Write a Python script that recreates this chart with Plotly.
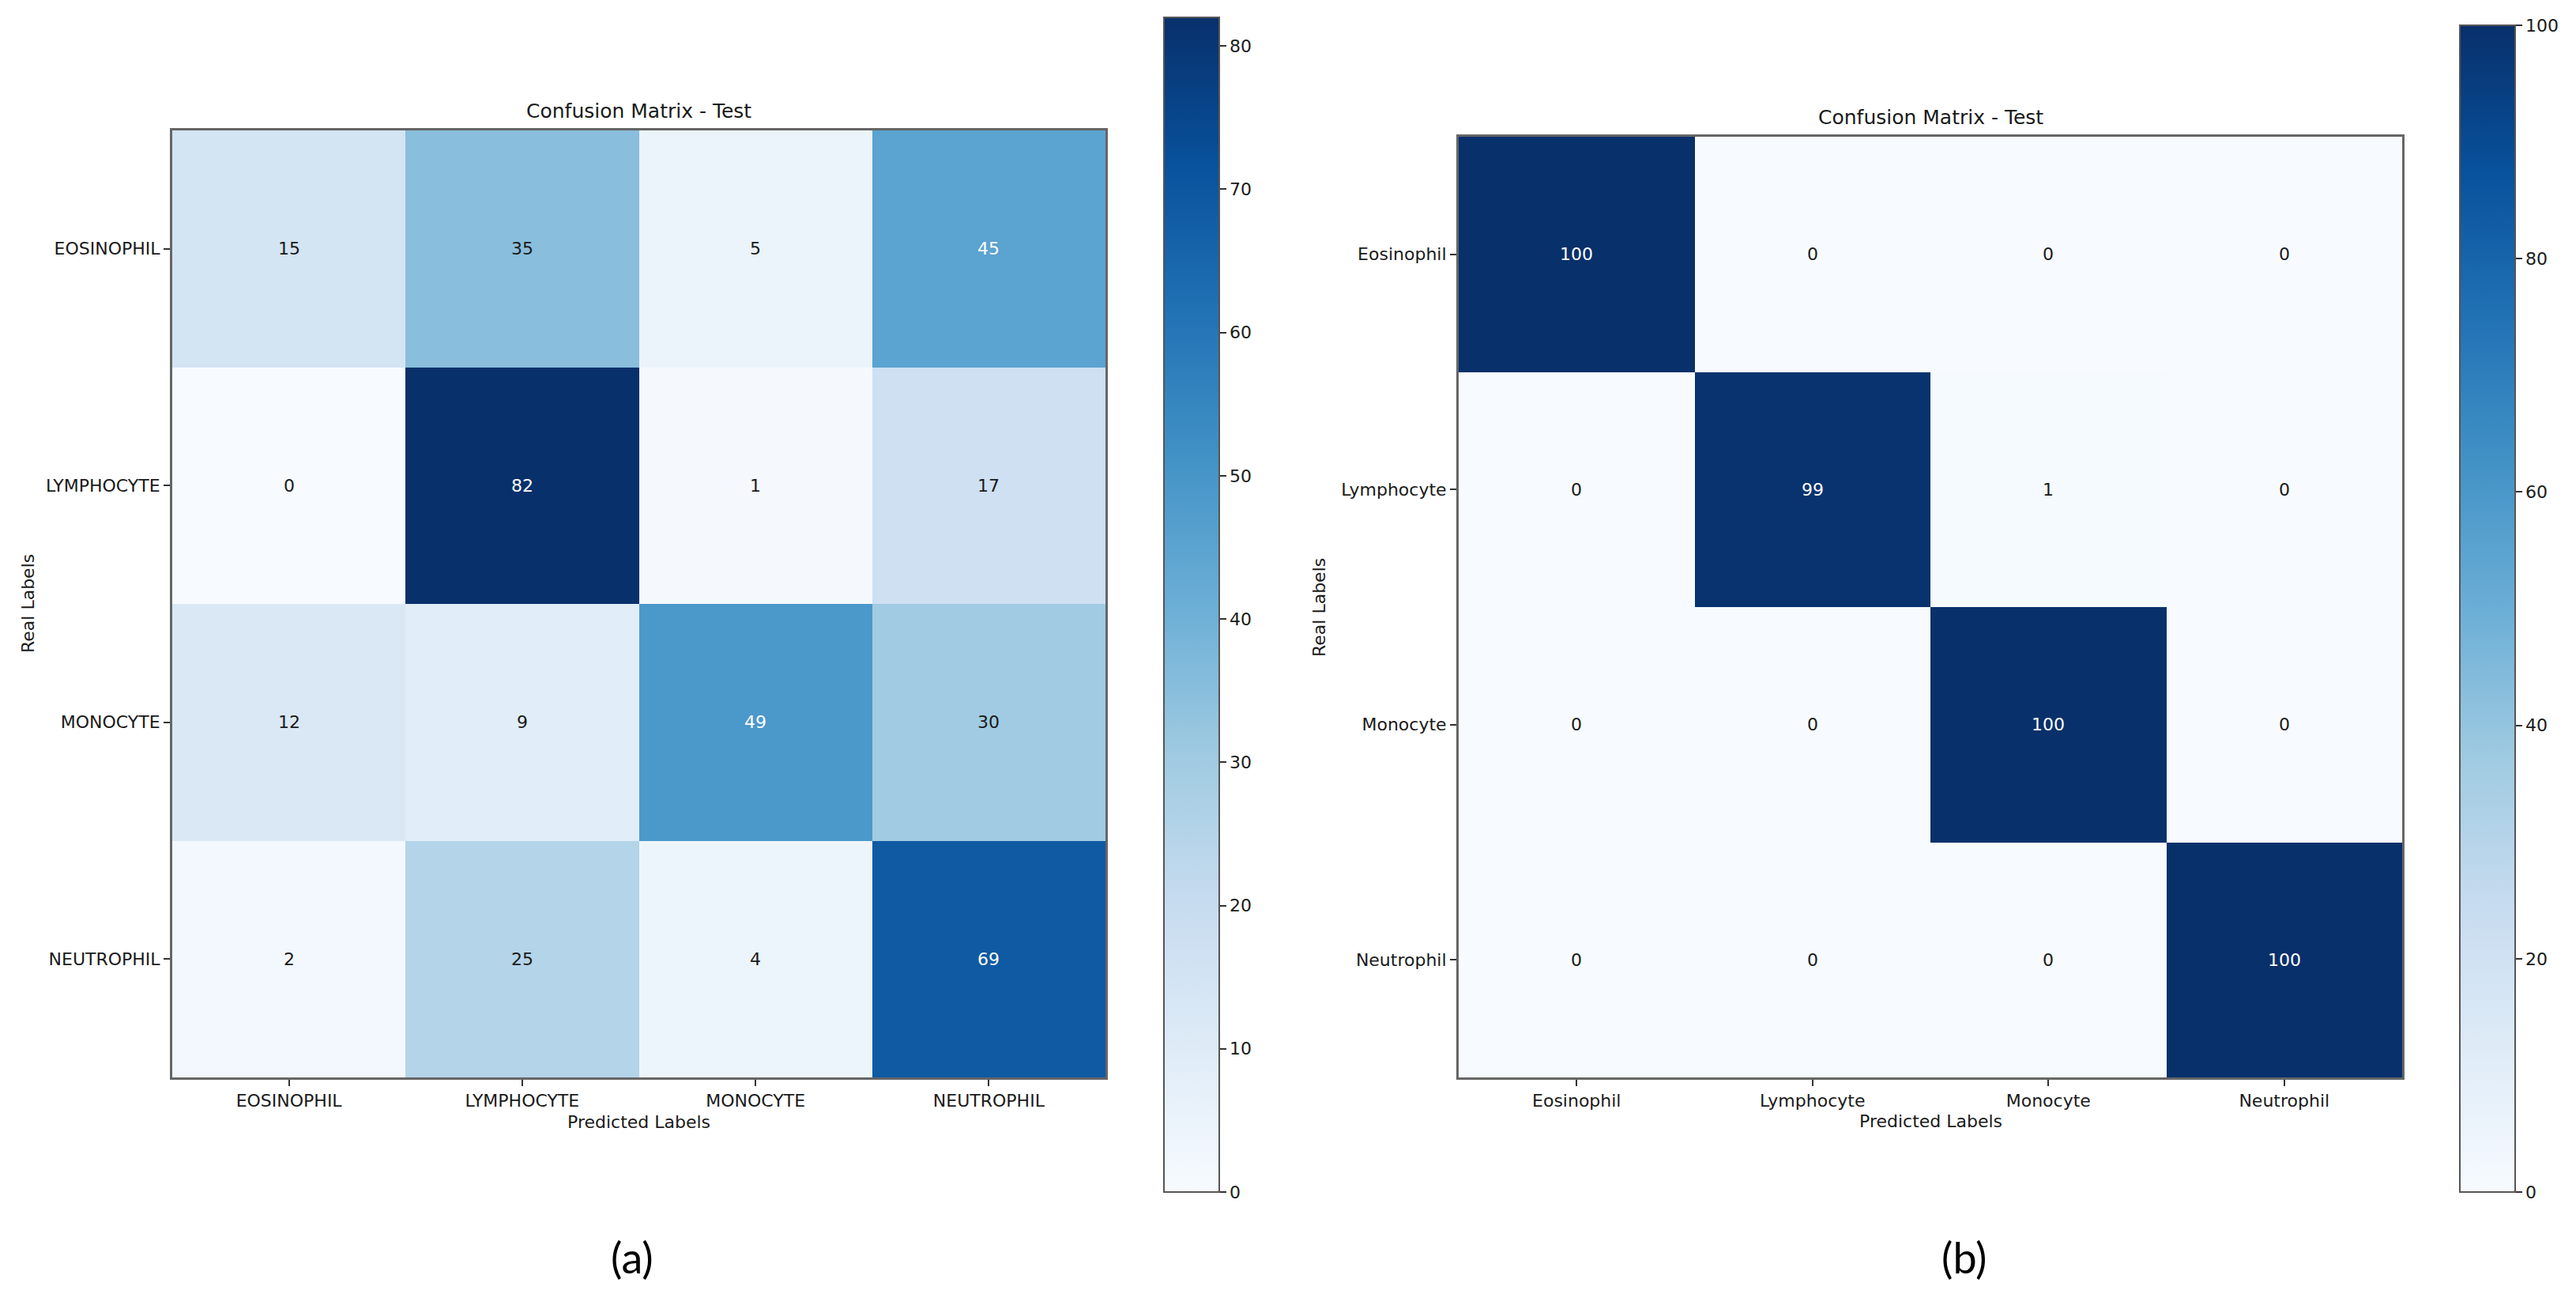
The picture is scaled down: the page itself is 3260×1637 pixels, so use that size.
import plotly.graph_objects as go

# ---------------- data ----------------
labels_a = ["EOSINOPHIL", "LYMPHOCYTE", "MONOCYTE", "NEUTROPHIL"]
labels_b = ["Eosinophil", "Lymphocyte", "Monocyte", "Neutrophil"]
cm_a = [
    [15, 35, 5, 45],
    [0, 82, 1, 17],
    [12, 9, 49, 30],
    [2, 25, 4, 69],
]
cm_b = [
    [100, 0, 0, 0],
    [0, 99, 1, 0],
    [0, 0, 100, 0],
    [0, 0, 0, 100],
]
cbar_ticks_a = [0, 10, 20, 30, 40, 50, 60, 70, 80]
cbar_ticks_b = [0, 20, 40, 60, 80, 100]
title_text = "Confusion Matrix - Test"
xlabel = "Predicted Labels"
ylabel = "Real Labels"
captions = ["(a)", "(b)"]

# ---------------- layout constants ----------------
W, H = 3260, 1637
FONT = "DejaVu Sans"
TXT = "#1a1a1a"

fig = go.Figure()

panels = [
    dict(z=cm_a, labels=labels_a, ticks=cbar_ticks_a, xa="x", ya="y",
         xdom=[218 / W, 1399 / W], ydom=[1 - 1363 / H, 1 - 165 / H],
         cbx=1473 / W, cby0=1 - 1508 / H, cblen=(1508 - 22) / H,
         ylab_shift=-183, cap_x=800 / W),
    dict(z=cm_b, labels=labels_b, ticks=cbar_ticks_b, xa="x2", ya="y2",
         xdom=[1846 / W, 3040 / W], ydom=[1 - 1363 / H, 1 - 173 / H],
         cbx=3113 / W, cby0=1 - 1508 / H, cblen=(1508 - 32) / H,
         ylab_shift=-177, cap_x=2486 / W),
]

annotations = []
for i, p in enumerate(panels):
    z = p["z"]
    zmax = max(max(r) for r in z)
    fig.add_trace(go.Heatmap(
        z=z, x=p["labels"], y=p["labels"],
        xaxis=p["xa"], yaxis=p["ya"],
        colorscale="Blues", zmin=0, zmax=zmax,
        showscale=True,
        colorbar=dict(
            x=p["cbx"], xanchor="left", xpad=0,
            y=p["cby0"], yanchor="bottom", ypad=0,
            len=p["cblen"], lenmode="fraction",
            thickness=70, thicknessmode="pixels",
            outlinewidth=2, outlinecolor="#555555",
            tickmode="array", tickvals=p["ticks"],
            ticks="outside", ticklen=8, tickwidth=2, tickcolor="#333333",
            tickfont=dict(family=FONT, size=22, color=TXT),
        ),
        hoverinfo="skip",
    ))
    thresh = zmax / 2
    xref = p["xa"]
    yref = p["ya"]
    for r, row in enumerate(z):
        for c, v in enumerate(row):
            annotations.append(dict(
                x=p["labels"][c], y=p["labels"][r], xref=xref, yref=yref,
                text=str(v), showarrow=False,
                font=dict(family=FONT, size=22,
                          color="white" if v > thresh else TXT),
            ))
    dom_x = xref + " domain"
    dom_y = yref + " domain"
    annotations.append(dict(x=0.5, y=1, xref=dom_x, yref=dom_y, yanchor="bottom",
                            yshift=8, text=title_text, showarrow=False,
                            font=dict(family=FONT, size=25, color=TXT)))
    annotations.append(dict(x=0.5, y=0, xref=dom_x, yref=dom_y, yanchor="middle",
                            yshift=-56, text=xlabel, showarrow=False,
                            font=dict(family=FONT, size=22, color=TXT)))
    annotations.append(dict(x=0, y=0.5, xref=dom_x, yref=dom_y, xanchor="center",
                            xshift=p["ylab_shift"], textangle=-90, text=ylabel,
                            showarrow=False,
                            font=dict(family=FONT, size=22, color=TXT)))
    annotations.append(dict(x=p["cap_x"], y=1 - 1590 / H, xref="paper", yref="paper",
                            xanchor="center", yanchor="middle",
                            text=captions[i], showarrow=False,
                            font=dict(family="Lato", size=54, color="#000000")))

axis_common = dict(
    showline=True, mirror=True, linecolor="#666666", linewidth=3,
    ticks="outside", ticklen=8, tickwidth=2, tickcolor="#333333",
    tickfont=dict(family=FONT, size=22, color=TXT),
    showgrid=False, zeroline=False, fixedrange=True,
)

fig.update_layout(
    width=W, height=H,
    margin=dict(l=0, r=0, t=0, b=0, autoexpand=False),
    paper_bgcolor="white", plot_bgcolor="white",
    xaxis=dict(domain=panels[0]["xdom"], anchor="y", **axis_common),
    yaxis=dict(domain=panels[0]["ydom"], anchor="x", autorange="reversed", **axis_common),
    xaxis2=dict(domain=panels[1]["xdom"], anchor="y2", **axis_common),
    yaxis2=dict(domain=panels[1]["ydom"], anchor="x2", autorange="reversed", **axis_common),
    annotations=annotations,
    showlegend=False,
)

fig.write_html("out.html", config={"displayModeBar": False},
               post_script="document.body.style.margin='0';")
